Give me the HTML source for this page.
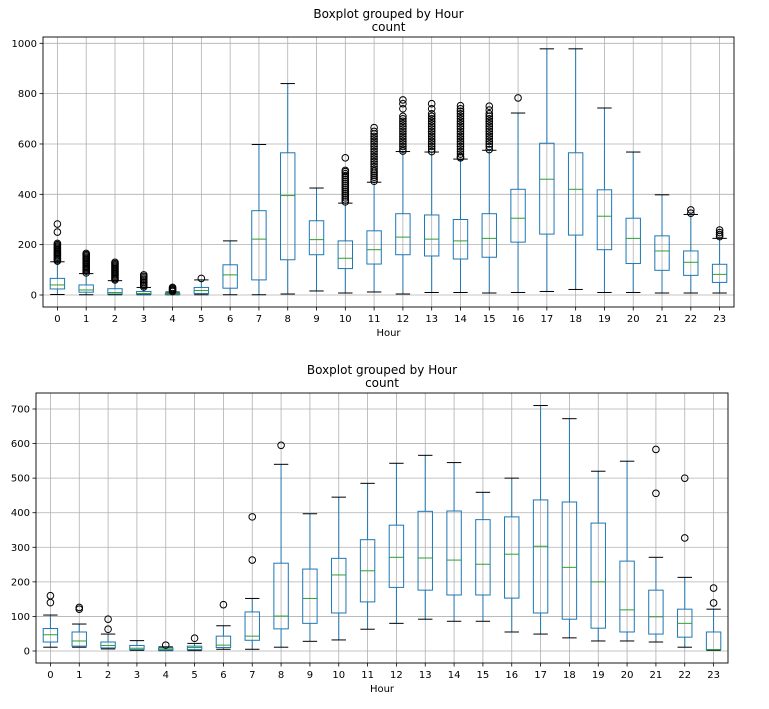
<!DOCTYPE html>
<html><head><meta charset="utf-8"><style>
body{margin:0;background:#fff;}
svg{display:block;font-family:"DejaVu Sans","Liberation Sans",sans-serif;}
</style></head><body>
<svg id="chart" width="769" height="709" viewBox="0 0 769 709"></svg>
<script>
const hours = ["0","1","2","3","4","5","6","7","8","9","10","11","12","13","14","15","16","17","18","19","20","21","22","23"];
const topTicks = [0,200,400,600,800,1000];
const topLo  = [2,1,1,1,1,1,1,1,4,16,8,12,4,10,10,8,10,14,22,10,10,8,8,8];
const topQ1  = [24,11,4,3,2,6,27,60,140,160,105,123,160,155,143,150,210,242,238,180,125,98,78,50];
const topMed = [40,20,10,6,4,18,80,222,395,220,146,180,230,222,215,225,305,460,420,313,225,175,130,82];
const topQ3  = [66,40,25,14,7,30,120,335,565,295,215,255,323,318,300,323,420,603,565,418,305,235,175,122];
const topHi  = [132,85,57,30,12,60,215,598,840,425,365,448,570,568,540,575,723,978,978,743,568,398,320,225];
const topOut = [
 [135,140,145,150,155,160,165,170,175,180,185,190,195,200,205,250,282],
 [88,95,100,105,110,115,120,125,130,135,140,145,150,155,160,165],
 [60,65,70,75,80,85,90,95,100,105,110,115,120,125,130],
 [32,38,44,50,56,62,68,74,80],
 [14,18,22,26,30],
 [66],[],[],[],[],
 [370,378,386,394,402,410,418,426,434,442,450,458,466,474,482,490,495,545],
 [452,460,468,476,484,492,500,510,520,530,540,550,560,570,580,590,600,610,620,630,640,650,665],
 [572,580,590,600,610,620,630,640,650,660,670,680,690,700,710,740,760,775],
 [570,580,590,600,610,620,630,640,650,660,670,680,690,700,710,720,740,760],
 [545,550,560,570,580,590,600,610,620,630,640,650,660,670,680,690,700,710,720,730,740,752],
 [578,590,600,610,620,630,640,650,660,670,680,690,700,710,720,735,750],
 [783],[],[],[],[],[],
 [325,338],
 [232,240,248,258]
];
const botTicks = [0,100,200,300,400,500,600,700];
const botLo  = [11,11,6,2,1,1,5,5,11,28,32,63,80,92,86,86,55,49,38,29,29,26,11,2];
const botQ1  = [26,14,9,4,2,4,10,31,64,80,110,142,184,176,162,162,153,110,92,66,55,49,40,4];
const botMed = [47,29,16,8,5,10,17,43,101,152,220,232,271,269,263,251,280,303,242,200,119,99,80,4];
const botQ3  = [65,55,26,16,9,14,43,113,254,237,268,322,364,404,405,380,388,437,431,370,260,176,121,55];
const botHi  = [104,78,49,30,12,22,73,152,540,397,445,485,543,566,545,459,500,710,672,520,549,271,213,121];
const botOut = [
 [140,160],[121,126],[63,92],[],[17],[37],[134],[263,388],[595],[],[],[],[],[],[],[],[],[],[],[],[],
 [456,583],[327,500],[139,182]
];

const NS="http://www.w3.org/2000/svg";
const svg=document.getElementById('chart');
function mk(tag,attrs,parent){const e=document.createElementNS(NS,tag);for(const k in attrs)e.setAttribute(k,attrs[k]);(parent||svg).appendChild(e);return e;}

function drawPanel(p){
  const g=mk('g',{});
  
  
  const L=p.left,R=p.right,T=p.top,B=p.bottom;
  const y=v=>p.y0+(p.y1-p.y0)*(v-p.vmin)/(p.vmax-p.vmin);
  const n=hours.length, step=(R-L)/n;
  const x=i=>L+(i+0.5)*step;
  const bw=step*0.5;
  // grid
  p.ticks.forEach(t=>{mk('line',{x1:L,x2:R,y1:y(t),y2:y(t),stroke:'#b0b0b0','stroke-width':0.8},g);});
  hours.forEach((h,i)=>{mk('line',{x1:x(i),x2:x(i),y1:T,y2:B,stroke:'#b0b0b0','stroke-width':0.8},g);});
  // boxes
  hours.forEach((h,i)=>{
    const bg=mk('g',{},g);
    
    
    const cx=x(i);
    mk('line',{x1:cx,x2:cx,y1:y(p.q3[i]),y2:y(p.hi[i]),stroke:'#1f77b4','stroke-width':1},bg);
    mk('line',{x1:cx,x2:cx,y1:y(p.q1[i]),y2:y(p.lo[i]),stroke:'#1f77b4','stroke-width':1},bg);
    mk('line',{x1:cx-bw/2,x2:cx+bw/2,y1:y(p.hi[i]),y2:y(p.hi[i]),stroke:'#000','stroke-width':1},bg);
    mk('line',{x1:cx-bw/2,x2:cx+bw/2,y1:y(p.lo[i]),y2:y(p.lo[i]),stroke:'#000','stroke-width':1},bg);
    mk('rect',{x:cx-bw/2,y:y(p.q3[i]),width:bw,height:Math.max(0.5,y(p.q1[i])-y(p.q3[i])),fill:'none',stroke:'#1f77b4','stroke-width':1},bg);
    mk('line',{x1:cx-bw/2,x2:cx+bw/2,y1:y(p.med[i]),y2:y(p.med[i]),stroke:'#2ca02c','stroke-width':1},bg);
    p.out[i].forEach(v=>{mk('circle',{cx:cx,cy:y(v),r:3.3,fill:'none',stroke:'#000','stroke-width':1},bg);});
  });
  // frame
  const fr=mk('rect',{x:L,y:T,width:R-L,height:B-T,fill:'none',stroke:'#000','stroke-width':0.9},g);
  
  
  // y ticks
  p.ticks.forEach(t=>{
    mk('line',{x1:L-3.5,x2:L,y1:y(t),y2:y(t),stroke:'#000','stroke-width':0.8},g);
    const tx=mk('text',{x:L-6,y:y(t)+3.5,'text-anchor':'end','font-size':10,fill:'#000'},g);
    
    
    tx.textContent=t;
  });
  hours.forEach((h,i)=>{
    mk('line',{x1:x(i),x2:x(i),y1:B,y2:B+3.5,stroke:'#000','stroke-width':0.8},g);
    const tx=mk('text',{x:x(i),y:B+15,'text-anchor':'middle','font-size':10,fill:'#000'},g);
    
    
    tx.textContent=h;
  });
  const xl=mk('text',{x:(L+R)/2,y:B+29,'text-anchor':'middle','font-size':10,fill:'#000'},g);
  
  
  xl.textContent='Hour';
  const t1=mk('text',{x:(L+R)/2,y:T-19,'text-anchor':'middle','font-size':12,fill:'#000'},g);
  
  
  t1.textContent='Boxplot grouped by Hour';
  const t2=mk('text',{x:(L+R)/2,y:T-6,'text-anchor':'middle','font-size':12,fill:'#000'},g);
  
  
  t2.textContent='count';
}
drawPanel({name:'top-boxplot',left:43,right:734,top:37,bottom:307,y0:295,y1:43.3,vmin:0,vmax:1000,ticks:topTicks,
  lo:topLo,q1:topQ1,med:topMed,q3:topQ3,hi:topHi,out:topOut});
drawPanel({name:'bottom-boxplot',left:36,right:728,top:393,bottom:663,y0:651,y1:409,vmin:0,vmax:700,ticks:botTicks,
  lo:botLo,q1:botQ1,med:botMed,q3:botQ3,hi:botHi,out:botOut});
</script>
</body></html>
